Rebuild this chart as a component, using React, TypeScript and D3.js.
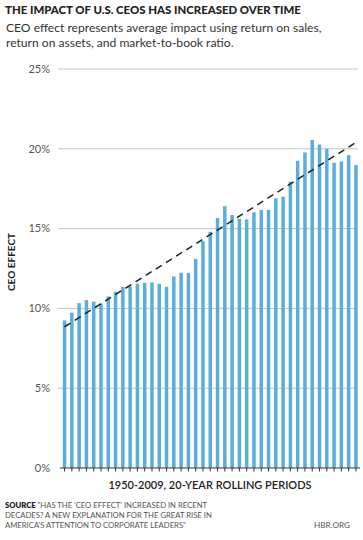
import { useEffect, useRef } from "react";
import * as d3 from "d3";

// start year of each 20-year rolling period (1950-1969 ... 1990-2009)
const periodStarts = [
  1950, 1951, 1952, 1953, 1954, 1955, 1956, 1957, 1958, 1959, 1960, 1961, 1962, 1963,
  1964, 1965, 1966, 1967, 1968, 1969, 1970, 1971, 1972, 1973, 1974, 1975, 1976, 1977,
  1978, 1979, 1980, 1981, 1982, 1983, 1984, 1985, 1986, 1987, 1988, 1989, 1990,
];

// CEO effect, percent
const ceoEffect = [
  9.25, 9.73, 10.33, 10.52, 10.42, 10.31, 10.75, 11.04, 11.35, 11.37, 11.55, 11.6, 11.63,
  11.54, 11.35, 12.0, 12.23, 12.23, 13.1, 14.22, 14.8, 15.66, 16.4, 15.85, 15.62, 15.58,
  16.02, 16.17, 16.17, 16.9, 17.0, 17.94, 19.25, 19.77, 20.56, 20.27, 20.0, 19.12, 19.2,
  19.6, 18.98,
];

// dashed trend line, value at first and last period
const trendValues = [8.85, 20.4];

const yTicks = [0, 5, 10, 15, 20, 25];

const sourceLines = [
  "\"HAS THE 'CEO EFFECT' INCREASED IN RECENT",
  "DECADES? A NEW EXPLANATION FOR THE GREAT RISE IN",
  "AMERICA'S ATTENTION TO CORPORATE LEADERS\"",
];

function Chart() {
  const ref = useRef<SVGSVGElement>(null);

  useEffect(() => {
    const svg = d3.select(ref.current);
    svg.selectAll("*").remove();

    const font = "Lato, 'Open Sans', sans-serif";
    const left = 58,
      right = 358;

    var x = d3
      .scaleBand<number>()
      .domain(periodStarts)
      .range([61, 359.5])
      .paddingInner(0.52)
      .paddingOuter(0.25);
    var y = d3.scaleLinear().domain([0, 25]).range([468, 69]);

    // title + subtitle
    svg
      .append("text")
      .attr("x", 5)
      .attr("y", 14)
      .style("font-family", font)
      .style("font-weight", 900)
      .style("font-size", "11.4px")
      .attr("fill", "#222")
      .text("THE IMPACT OF U.S. CEOS HAS INCREASED OVER TIME");

    const sub = svg
      .append("text")
      .style("font-family", font)
      .style("font-size", "12.1px")
      .attr("fill", "#333");
    sub.append("tspan").attr("x", 6).attr("y", 32).text("CEO effect represents average impact using return on sales,");
    sub.append("tspan").attr("x", 6).attr("y", 47).text("return on assets, and market-to-book ratio.");

    // gridlines
    svg
      .append("g")
      .selectAll("line")
      .data(yTicks.filter((t) => t > 0))
      .join("line")
      .attr("x1", left)
      .attr("x2", right)
      .attr("y1", (d) => y(d))
      .attr("y2", (d) => y(d))
      .attr("stroke", "#c4c4c4")
      .attr("stroke-width", 1);

    // y labels
    svg
      .append("g")
      .selectAll("text")
      .data(yTicks)
      .join("text")
      .attr("x", 50)
      .attr("y", (d) => y(d))
      .attr("dy", "0.35em")
      .attr("text-anchor", "end")
      .style("font-family", font)
      .style("font-size", "11px")
      .attr("fill", "#555")
      .text((d) => d + "%");

    // y title
    svg
      .append("text")
      .attr("transform", `translate(15,262) rotate(-90)`)
      .attr("text-anchor", "middle")
      .style("font-family", font)
      .style("font-weight", 700)
      .style("font-size", "10px")
      .attr("fill", "#222")
      .text("CEO EFFECT");

    // bars
    svg
      .append("g")
      .selectAll("rect")
      .data(ceoEffect)
      .join("rect")
      .attr("x", (d, i) => x(periodStarts[i])!)
      .attr("width", x.bandwidth())
      .attr("y", (d) => y(d))
      .attr("height", (d) => y(0) - y(d))
      .attr("fill", "#5aaedb");

    // x axis line + ticks
    svg
      .append("line")
      .attr("x1", 60)
      .attr("x2", 360)
      .attr("y1", y(0))
      .attr("y2", y(0))
      .attr("stroke", "#333")
      .attr("stroke-width", 1.2);
    svg
      .append("g")
      .selectAll("line")
      .data(periodStarts)
      .join("line")
      .attr("x1", (d) => x(d)! + x.bandwidth() / 2)
      .attr("x2", (d) => x(d)! + x.bandwidth() / 2)
      .attr("y1", y(0))
      .attr("y2", y(0) + 3.5)
      .attr("stroke", "#333")
      .attr("stroke-width", 1);

    // trend line
    const first = periodStarts[0],
      last = periodStarts[periodStarts.length - 1];
    const trend = d3
      .line<[number, number]>()
      .x((d) => x(d[0])! + x.bandwidth() / 2)
      .y((d) => y(d[1]));
    svg
      .append("path")
      .datum([
        [first, trendValues[0]],
        [last, trendValues[1]],
      ] as [number, number][])
      .attr("d", trend)
      .attr("fill", "none")
      .attr("stroke", "#222")
      .attr("stroke-width", 1.5)
      .attr("stroke-dasharray", "7,5");

    // x title
    svg
      .append("text")
      .attr("x", 210)
      .attr("y", 489)
      .attr("text-anchor", "middle")
      .style("font-family", font)
      .style("font-weight", 600)
      .style("font-size", "11px")
      .attr("fill", "#222")
      .text("1950-2009, 20-YEAR ROLLING PERIODS");

    // source
    const src = svg
      .append("text")
      .style("font-family", font)
      .style("font-size", "7.7px")
      .attr("fill", "#555");
    sourceLines.forEach((line, i) => {
      const t = src.append("tspan").attr("x", 5).attr("y", 508 + i * 10);
      if (i === 0) {
        t.append("tspan").style("font-weight", 800).attr("fill", "#222").text("SOURCE ");
      }
      t.append("tspan").text(line);
    });
    svg
      .append("text")
      .attr("x", 350)
      .attr("y", 528)
      .attr("text-anchor", "end")
      .style("font-family", font)
      .style("font-size", "8.2px")
      .attr("fill", "#555")
      .text("HBR.ORG");
  }, []);

  return <svg ref={ref} width={363} height={540}></svg>;
}

export default function App() {
  return (
    <div style={{ position: "absolute", left: 0, top: 0, background: "#fff" }}>
      <Chart />
    </div>
  );
}
